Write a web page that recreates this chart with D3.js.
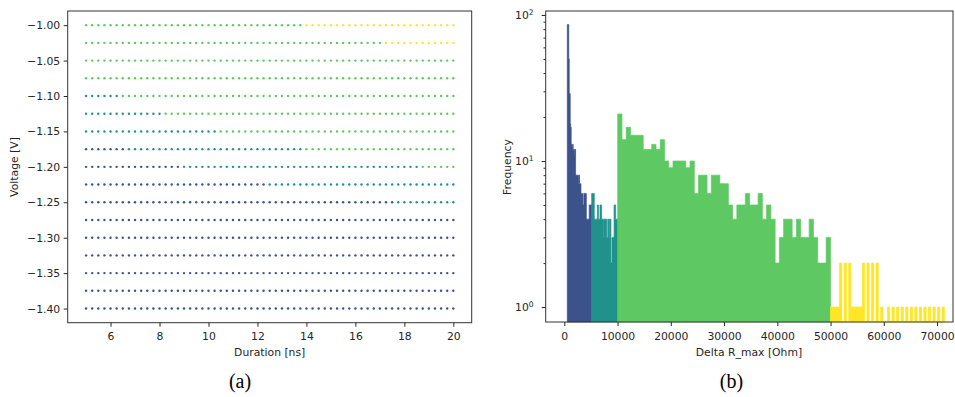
<!DOCTYPE html>
<html>
<head>
<meta charset="utf-8">
<script src="https://cdn.jsdelivr.net/npm/d3@7"></script>
<style>
body { margin: 0; background: #fff; }
svg { display: block; }
.axis text { font-family: "DejaVu Sans", sans-serif; font-size: 10.8px; fill: #262626; }
.axis line { stroke: #262626; }
.lbl { font-family: "DejaVu Sans", sans-serif; font-size: 10.8px; fill: #262626; }
.cap { font-family: "Liberation Serif", serif; font-size: 20px; fill: #000; }
</style>
</head>
<body>
<svg width="955" height="397"></svg>
<script>
// (a) duration / voltage grid
var durations = [5, 5.25, 5.5, 5.75, 6, 6.25, 6.5, 6.75, 7, 7.25, 7.5, 7.75, 8, 8.25, 8.5, 8.75,
	9, 9.25, 9.5, 9.75, 10, 10.25, 10.5, 10.75, 11, 11.25, 11.5, 11.75, 12, 12.25, 12.5, 12.75,
	13, 13.25, 13.5, 13.75, 14, 14.25, 14.5, 14.75, 15, 15.25, 15.5, 15.75, 16, 16.25, 16.5, 16.75,
	17, 17.25, 17.5, 17.75, 18, 18.25, 18.5, 18.75, 19, 19.25, 19.5, 19.75, 20];
var voltages = [-1.0, -1.025, -1.05, -1.075, -1.1, -1.125, -1.15, -1.175, -1.2,
	-1.225, -1.25, -1.275, -1.3, -1.325, -1.35, -1.375, -1.4];
// category runs along each voltage row: [category, number of points]
var rowRuns = [
	[[2, 36], [3, 25]],
	[[2, 49], [3, 12]],
	[[2, 61]],
	[[2, 61]],
	[[1, 6], [2, 55]],
	[[1, 13], [2, 48]],
	[[1, 22], [2, 39]],
	[[0, 7], [1, 29], [2, 25]],
	[[0, 16], [1, 39], [2, 6]],
	[[0, 30], [1, 31]],
	[[0, 51], [1, 10]],
	[[0, 61]], [[0, 61]], [[0, 61]], [[0, 61]], [[0, 61]], [[0, 61]]
];
var durTicks = [6, 8, 10, 12, 14, 16, 18, 20];
var voltTicks = [-1.0, -1.05, -1.1, -1.15, -1.2, -1.25, -1.3, -1.35, -1.4];

// (b) histogram of Delta R_max, one set of 50 bins per category
var binRanges = [[563, 5140], [5140, 10030], [10030, 49980], [49980, 71380]];
var blueCounts = [86, 86, 86, 50, 29, 29, 18, 17, 13, 13, 12, 13, 12, 12, 12, 11, 12,
	8, 8, 8, 8, 8, 8, 7, 8, 7, 7, 7, 6, 6, 6, 6, 5, 5, 6, 6, 6, 6, 6,
	4, 4, 4, 4, 4, 4, 5, 5, 5, 5, 5];
var tealCounts = [6, 6, 6, 6, 6, 4, 4, 4, 4, 4, 4, 5, 5, 4, 4, 4, 5, 5, 5,
	4, 4, 4, 3, 4, 4, 4, 4, 4, 4, 3, 3, 4, 4, 3, 4, 4, 4, 2, 2, 3, 3, 3, 3, 5, 5, 5, 4, 4, 4, 4];
var greenCounts = [21, 14, 17, 15, 15, 15, 12, 12, 13, 12, 14, 10, 9, 10, 10, 10, 9, 10,
	6, 8, 8, 6, 8, 8, 7, 7, 5, 4, 5, 5, 6, 5, 5, 6, 4, 5, 4, 2, 3, 4, 4, 3, 4, 3, 3, 4, 3, 2, 2, 3];
var yellowCounts = [1, 1, 1, 1, 2, 0, 2, 0, 2, 1, 1, 1, 1, 1, 2, 0, 2, 0, 2, 0, 2, 0, 1, 0, 0,
	1, 0, 1, 0, 1, 0, 1, 0, 1, 0, 1, 0, 1, 0, 1, 0, 1, 0, 1, 0, 1, 0, 1, 0, 1];
var ohmTicks = [0, 10000, 20000, 30000, 40000, 50000, 60000, 70000];
var freqTicks = [1, 10, 100];
var freqMinor = [2, 3, 4, 5, 6, 7, 8, 9, 20, 30, 40, 50, 60, 70, 80, 90];

var catColors = ["#3b528b", "#21918c", "#5ec962", "#fde725"];

var svg = d3.select("svg");

// ---------- left panel ----------
var xL = d3.scaleLinear().domain([4.25, 20.75]).range([67.7, 471.7]);
var yL = d3.scaleLinear().domain([-1.42, -0.98]).range([322.7, 11]);

var points = [];
voltages.forEach(function(v, r) {
	var k = 0;
	rowRuns[r].forEach(function(run) {
		for (var j = 0; j < run[1]; j++) {
			points.push({d: durations[k], v: v, c: run[0]});
			k++;
		}
	});
});

svg.append("g")
	.selectAll("circle")
	.data(points)
	.enter().append("circle")
	.attr("cx", function(p) { return xL(p.d); })
	.attr("cy", function(p) { return yL(p.v); })
	.attr("r", 1.2)
	.attr("fill", function(p) { return catColors[p.c]; });

svg.append("rect")
	.attr("x", 67.7).attr("y", 11)
	.attr("width", 404).attr("height", 311.7)
	.attr("fill", "none").attr("stroke", "#333").attr("stroke-width", 1);

var axL = svg.append("g").attr("class", "axis")
	.attr("transform", "translate(0,322.7)")
	.call(d3.axisBottom(xL).tickValues(durTicks).tickSize(4).tickPadding(6).tickFormat(d3.format("d")));
axL.select(".domain").remove();

var ayL = svg.append("g").attr("class", "axis")
	.attr("transform", "translate(67.7,0)")
	.call(d3.axisLeft(yL).tickValues(voltTicks).tickSize(4).tickPadding(3.5).tickFormat(d3.format(".2f")));
ayL.select(".domain").remove();

svg.append("text").attr("class", "lbl")
	.attr("x", 269.7).attr("y", 356)
	.attr("text-anchor", "middle")
	.text("Duration [ns]");

svg.append("text").attr("class", "lbl")
	.attr("transform", "translate(18,167) rotate(-90)")
	.attr("text-anchor", "middle")
	.text("Voltage [V]");

// ---------- right panel ----------
var xR = d3.scaleLinear().domain([-3493, 72995]).range([545.7, 953]);
var yR = d3.scaleLog().domain([0.79, 106.5]).range([322, 11]);
var yBase = yR.range()[0];

// one step outline per category so neighbouring bins have no seams
var hists = [blueCounts, tealCounts, greenCounts, yellowCounts].map(function(counts, c) {
	var a = binRanges[c][0], b = binRanges[c][1];
	var w = (b - a) / counts.length;
	var pts = counts.map(function(n, i) { return {x: a + i * w, n: n}; });
	pts.push({x: b, n: counts[counts.length - 1]});
	return {c: c, pts: pts};
});

var histArea = d3.area()
	.curve(d3.curveStepAfter)
	.x(function(p) { return xR(p.x); })
	.y0(yBase)
	.y1(function(p) { return p.n > 0 ? yR(p.n) : yBase; });

svg.append("g")
	.selectAll("path")
	.data(hists)
	.enter().append("path")
	.attr("d", function(h) { return histArea(h.pts); })
	.attr("fill", function(h) { return catColors[h.c]; })
	.attr("stroke", function(h) { return catColors[h.c]; })
	.attr("stroke-width", 0.7);

svg.append("rect")
	.attr("x", 545.7).attr("y", 11)
	.attr("width", 407.3).attr("height", 311)
	.attr("fill", "none").attr("stroke", "#333").attr("stroke-width", 1);

var axR = svg.append("g").attr("class", "axis")
	.attr("transform", "translate(0,322)")
	.call(d3.axisBottom(xR).tickValues(ohmTicks).tickSize(4).tickPadding(6).tickFormat(d3.format("d")));
axR.select(".domain").remove();

var ayR = svg.append("g").attr("class", "axis")
	.attr("transform", "translate(545.7,0)")
	.call(d3.axisLeft(yR).tickValues(freqTicks).tickSize(4).tickPadding(8).tickFormat(function() { return ""; }));
ayR.select(".domain").remove();
ayR.selectAll(".tick text").each(function(d) {
	var t = d3.select(this);
	t.append("tspan").text("10");
	t.append("tspan").attr("dy", "-0.5em").style("font-size", "7.6px").text(Math.round(Math.log10(d)));
});

var ayRm = svg.append("g").attr("class", "axis")
	.attr("transform", "translate(545.7,0)")
	.call(d3.axisLeft(yR).tickValues(freqMinor).tickSize(2.2).tickFormat(function() { return ""; }));
ayRm.select(".domain").remove();

svg.append("text").attr("class", "lbl")
	.attr("x", 749).attr("y", 356)
	.attr("text-anchor", "middle")
	.text("Delta R_max [Ohm]");

svg.append("text").attr("class", "lbl")
	.attr("transform", "translate(511,167) rotate(-90)")
	.attr("text-anchor", "middle")
	.text("Frequency");

// captions
svg.append("text").attr("class", "cap")
	.attr("x", 240).attr("y", 388).attr("text-anchor", "middle").text("(a)");
svg.append("text").attr("class", "cap")
	.attr("x", 731.5).attr("y", 388).attr("text-anchor", "middle").text("(b)");
</script>
</body>
</html>
